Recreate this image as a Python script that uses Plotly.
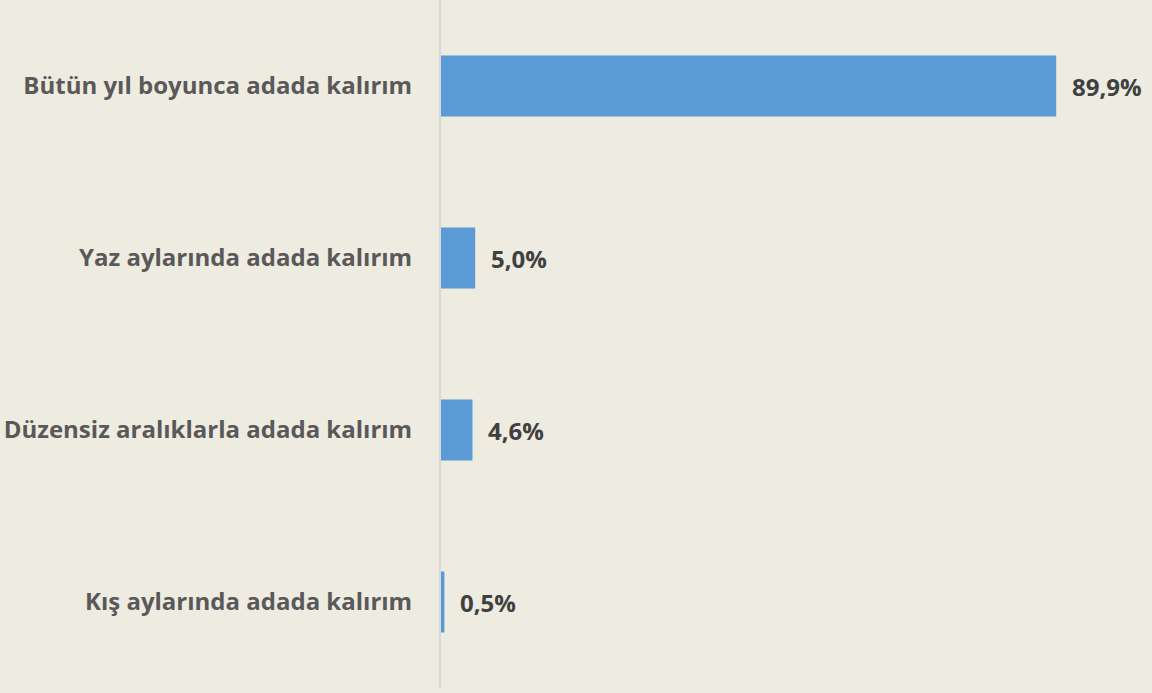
import plotly.graph_objects as go

categories = [
    "Bütün yıl boyunca adada kalırım",
    "Yaz aylarında adada kalırım",
    "Düzensiz aralıklarla adada kalırım",
    "Kış aylarında adada kalırım",
]
values = [89.9, 5.0, 4.6, 0.5]
value_labels = ["89,9%", "5,0%", "4,6%", "0,5%"]

bg = "#EEEBE1"
fig = go.Figure()

fig.add_trace(go.Bar(
    x=values,
    y=categories,
    orientation="h",
    marker=dict(color="#5B9BD5", line=dict(width=0)),
    hoverinfo="none",
))

# value labels to the right of each bar
for cat, val, lab in zip(categories, values, value_labels):
    fig.add_annotation(
        x=val, y=cat, text="<b>%s</b>" % lab,
        xanchor="left", yanchor="middle", xshift=14,
        showarrow=False,
        font=dict(family="Open Sans", size=24, color="#404040"),
    )

fig.update_yaxes(
    autorange="reversed",
    showline=True, linecolor="#D9D9D9", linewidth=2,
    ticks="", ticklabelstandoff=22,
    tickfont=dict(family="Open Sans", size=24, color="#595959", weight="bold"),
    showgrid=False,
)
fig.update_xaxes(
    visible=False, range=[0, 103.9], showgrid=False, zeroline=False,
)

fig.update_layout(
    width=1152, height=693,
    bargap=0.645,
    showlegend=False,
    plot_bgcolor=bg,
    paper_bgcolor=bg,
    margin=dict(t=0, l=441, r=0, b=5),
)

fig.write_html(
    "out.html",
    config={"displayModeBar": False},
    post_script="document.body.style.margin='0';"
                "document.body.style.background='%s';" % bg,
)
